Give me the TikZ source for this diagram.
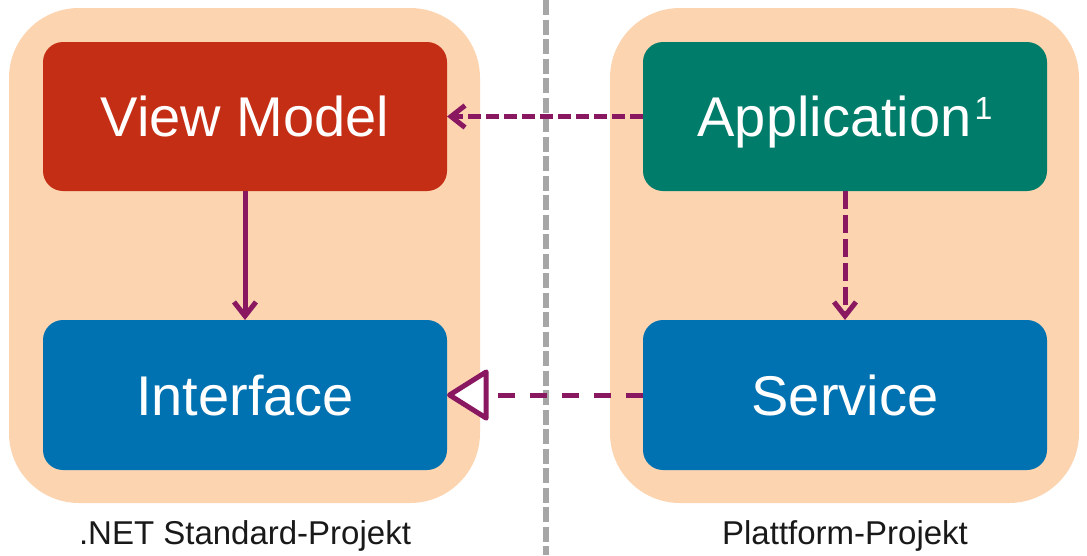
\documentclass[tikz,border=0pt]{standalone}
\usepackage{fontspec}
\setmainfont{Liberation Sans}
\usetikzlibrary{arrows.meta}
\definecolor{peach}{HTML}{FCD5B0}
\definecolor{vmred}{HTML}{C42E15}
\definecolor{appteal}{HTML}{007D6A}
\definecolor{ifblue}{HTML}{0072B1}
\definecolor{arrpurple}{HTML}{8A1861}
\definecolor{divgray}{HTML}{A6A6A6}
\tikzset{
  pane/.style={fill=peach, draw=none, rounded corners=70pt, inner sep=0pt, outer sep=0pt},
  box/.style={draw=none, rounded corners=20pt, minimum width=404pt, minimum height=149pt,
    inner sep=0pt, outer sep=0pt, text=white, font=\fontsize{56}{60}\selectfont,
    text height=40pt, text depth=0pt},
  caption/.style={anchor=base, inner sep=0pt, font=\fontsize{33}{36}\selectfont, text=black!90},
  dep/.style={draw=arrpurple, line width=5pt, -{Straight Barb[length=14pt,width=22pt,line width=5pt]}},
  impl/.style={draw=arrpurple, line width=5pt, dash pattern=on 17pt off 15pt,
    -{Triangle[length=44pt,width=54pt,fill=white,line width=5pt,round]}},
}
\begin{document}
\begin{tikzpicture}[x=1pt,y=-1pt]
\useasboundingbox (0,0) rectangle (1087,555);
\fill[white] (0,0) rectangle (1087,555);
% panes
\node[pane, minimum width=471pt, minimum height=495pt] (lp) at (244.5,255.5) {};
\node[pane, minimum width=469pt, minimum height=495pt] (rp) at (844.5,255.5) {};
% divider
\coordinate (dtop) at (546,0);
\coordinate (dbot) at (546,555);
\draw[divgray, line width=6pt, dash pattern=on 15pt off 4.5pt] (dtop) -- (dbot);
% boxes
\node[box, fill=vmred] (vm) at (245,116.5) {View Model};
\node[box, fill=appteal] (app) at (845,116.5) {Application\kern3pt\raisebox{17pt}{\fontsize{32}{32}\selectfont 1}};
\node[box, fill=ifblue, minimum height=150pt] (if) at (245,395) {Interface};
\node[box, fill=ifblue, minimum height=150pt] (svc) at (845,395) {Service};
% captions
\node[caption] (lc) at (245,544) {.NET Standard-Projekt};
\node[caption] (rc) at (845,544) {Plattform-Projekt};
% arrows
\draw[dep, dash pattern=on 13pt off 5pt] (app.west) -- (vm.east);
\draw[dep] (vm.south) -- (if.north);
\draw[dep, dash pattern=on 18pt off 6pt] (app.south) -- (svc.north);
\draw[impl] (svc.west) -- (if.east);
\end{tikzpicture}
\end{document}
